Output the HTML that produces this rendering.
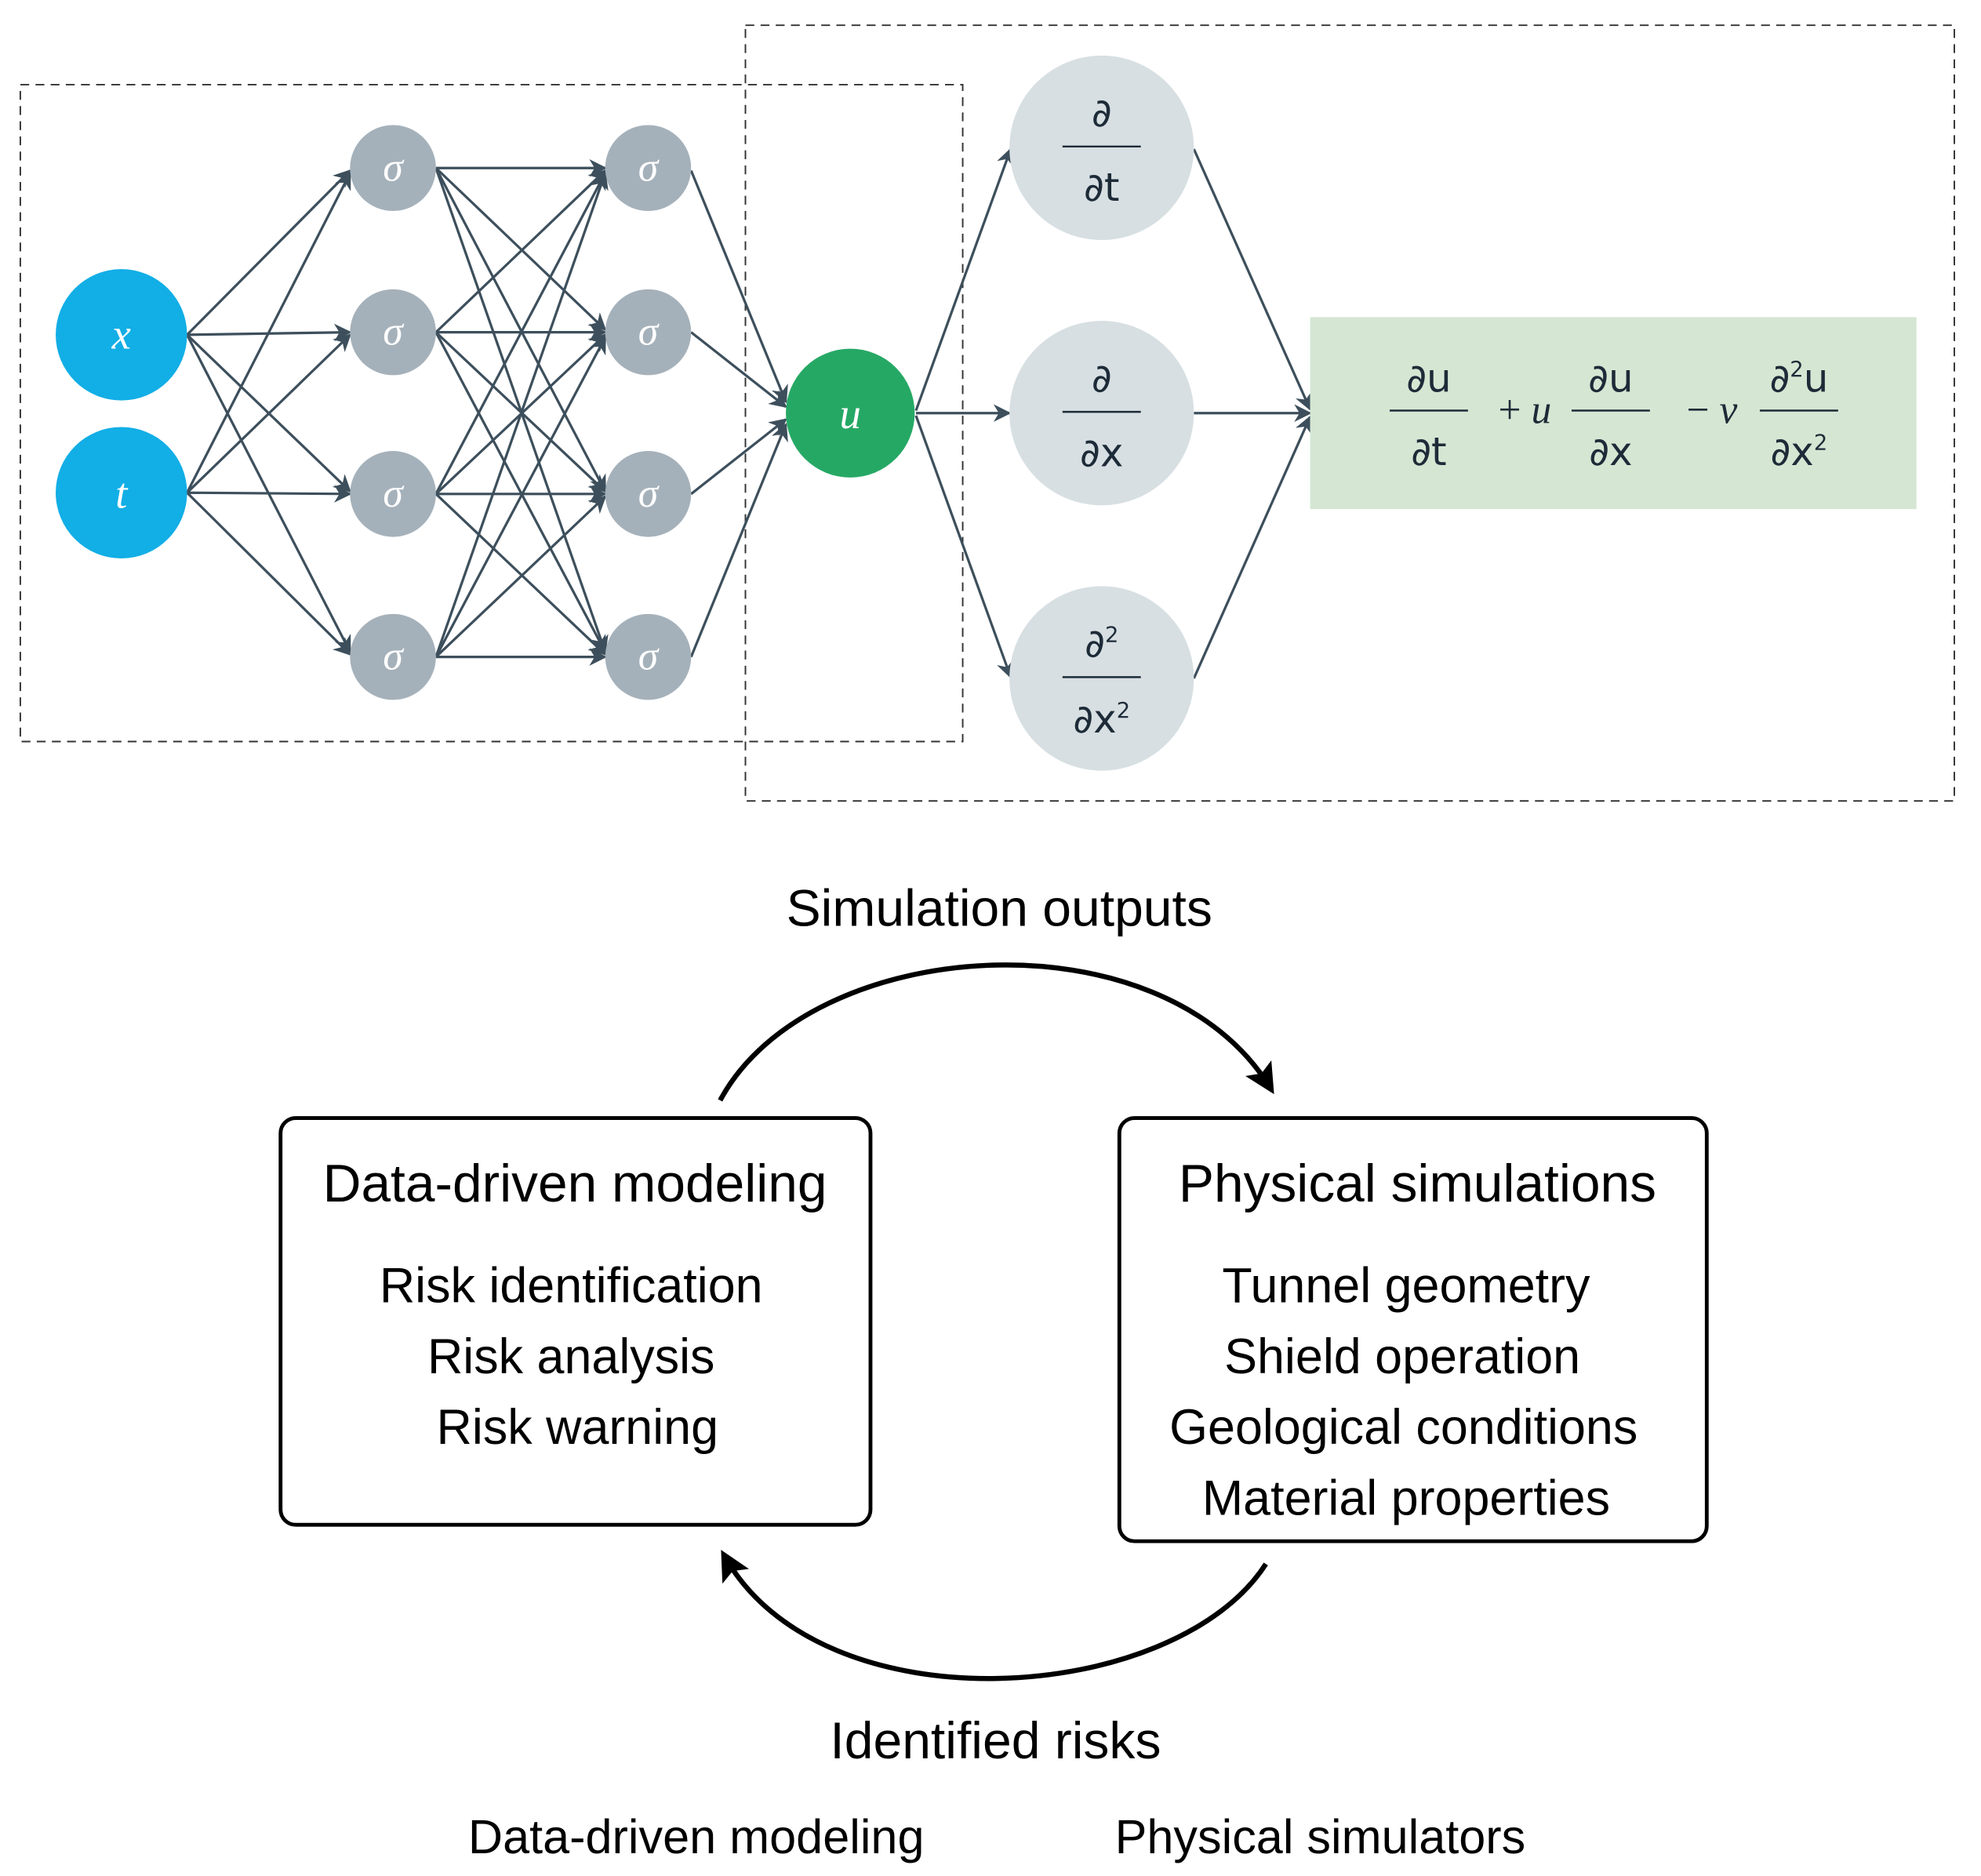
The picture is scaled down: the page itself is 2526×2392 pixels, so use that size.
<!DOCTYPE html>
<html><head><meta charset="utf-8"><style>html,body{margin:0;padding:0;background:#fff}svg{display:block}</style></head>
<body>
<svg width="2526" height="2392" viewBox="0 0 1568 1485" xmlns="http://www.w3.org/2000/svg">
<defs>
<marker id="a" viewBox="0 0 10 10" refX="9" refY="5" markerWidth="7" markerHeight="7" orient="auto"><path d="M0,0 L10,5 L0,10 L3,5z" fill="#3d4f5c"/></marker>
<marker id="b" viewBox="0 0 10 10" refX="8" refY="5" markerWidth="6" markerHeight="6" orient="auto"><path d="M0,0 L10,5 L0,10 L2,5z" fill="#000"/></marker>
</defs>
<rect x="16" y="67" width="746" height="520" fill="none" stroke="#333" stroke-width="1.2" stroke-dasharray="7,5"/>
<rect x="590" y="20" width="957" height="614" fill="none" stroke="#333" stroke-width="1.2" stroke-dasharray="7,5"/>
<g stroke="#3d4f5c" stroke-width="2" fill="none" marker-end="url(#a)">
<line x1="148" y1="265" x2="277" y2="135"/><line x1="148" y1="265" x2="277" y2="263"/><line x1="148" y1="265" x2="277" y2="389"/><line x1="148" y1="265" x2="277" y2="516"/>
<line x1="148" y1="390" x2="277" y2="137"/><line x1="148" y1="390" x2="277" y2="265"/><line x1="148" y1="390" x2="277" y2="391"/><line x1="148" y1="390" x2="277" y2="518"/>
<line x1="345" y1="133" x2="479" y2="133"/><line x1="345" y1="133" x2="479" y2="261"/><line x1="345" y1="133" x2="479" y2="389"/><line x1="345" y1="133" x2="479" y2="516"/>
<line x1="345" y1="263" x2="479" y2="135"/><line x1="345" y1="263" x2="479" y2="263"/><line x1="345" y1="263" x2="479" y2="389"/><line x1="345" y1="263" x2="479" y2="516"/>
<line x1="345" y1="391" x2="479" y2="137"/><line x1="345" y1="391" x2="479" y2="265"/><line x1="345" y1="391" x2="479" y2="391"/><line x1="345" y1="391" x2="479" y2="518"/>
<line x1="345" y1="520" x2="479" y2="137"/><line x1="345" y1="520" x2="479" y2="267"/><line x1="345" y1="520" x2="479" y2="393"/><line x1="345" y1="520" x2="479" y2="520"/>
<line x1="547" y1="135" x2="622" y2="318"/><line x1="547" y1="263" x2="622" y2="322"/><line x1="547" y1="391" x2="622" y2="332"/><line x1="547" y1="520" x2="622" y2="336"/>
<line x1="725" y1="325" x2="800" y2="118"/><line x1="725" y1="327" x2="799" y2="327"/><line x1="725" y1="329" x2="800" y2="536"/>
<line x1="945" y1="118" x2="1037" y2="324"/><line x1="945" y1="327" x2="1037" y2="327"/><line x1="945" y1="537" x2="1037" y2="330"/>
</g>
<circle cx="96" cy="265" r="52" fill="#12aee6"/><circle cx="96" cy="390" r="52" fill="#12aee6"/>
<g font-family="Liberation Serif,serif" font-style="italic" font-size="34" fill="#fff" text-anchor="middle"><text x="96" y="276">x</text><text x="96" y="402">t</text></g>
<g fill="#a5b1ba"><circle cx="311" cy="133" r="34"/><circle cx="311" cy="263" r="34"/><circle cx="311" cy="391" r="34"/><circle cx="311" cy="520" r="34"/>
<circle cx="513" cy="133" r="34"/><circle cx="513" cy="263" r="34"/><circle cx="513" cy="391" r="34"/><circle cx="513" cy="520" r="34"/></g>
<g font-family="Liberation Serif,serif" font-style="italic" font-size="32" fill="#fff" text-anchor="middle">
<text x="311" y="143">σ</text><text x="311" y="273">σ</text><text x="311" y="401">σ</text><text x="311" y="530">σ</text>
<text x="513" y="143">σ</text><text x="513" y="273">σ</text><text x="513" y="401">σ</text><text x="513" y="530">σ</text></g>
<circle cx="673" cy="327" r="51" fill="#26a865"/>
<text x="673" y="339" font-family="Liberation Serif,serif" font-style="italic" font-size="34" fill="#fff" text-anchor="middle">u</text>
<g fill="#d7dfe2"><circle cx="872" cy="117" r="73"/><circle cx="872" cy="327" r="73"/><circle cx="872" cy="537" r="73"/></g>
<g font-family="DejaVu Sans,sans-serif" font-size="31" fill="#1d2b38" text-anchor="middle">
<text x="872" y="100">∂</text><text x="872" y="159">∂t</text><text x="872" y="310">∂</text><text x="872" y="369">∂x</text>
<text x="872" y="520">∂<tspan font-size="17" dy="-12">2</tspan></text><text x="872" y="580">∂x<tspan font-size="17" dy="-12">2</tspan></text></g>
<g stroke="#1d2b38" stroke-width="1.5"><line x1="841" y1="116" x2="903" y2="116"/><line x1="841" y1="326" x2="903" y2="326"/><line x1="841" y1="536" x2="903" y2="536"/></g>
<rect x="1037" y="251" width="480" height="152" fill="#d5e7d3"/>
<g font-family="DejaVu Sans,sans-serif" font-size="31" fill="#1d2b38" text-anchor="middle">
<text x="1131" y="310">∂u</text><text x="1131" y="368">∂t</text><text x="1275" y="310">∂u</text><text x="1275" y="368">∂x</text>
<text x="1424" y="310">∂<tspan font-size="17" dy="-12">2</tspan><tspan dy="12">u</tspan></text><text x="1424" y="368">∂x<tspan font-size="17" dy="-12">2</tspan></text></g>
<g stroke="#1d2b38" stroke-width="1.5"><line x1="1100" y1="325" x2="1162" y2="325"/><line x1="1244" y1="325" x2="1306" y2="325"/><line x1="1393" y1="325" x2="1455" y2="325"/></g>
<g font-family="Liberation Serif,serif" font-size="32" fill="#1d2b38"><text x="1186" y="335">+ <tspan font-style="italic">u</tspan></text><text x="1335" y="335">− <tspan font-style="italic">ν</tspan></text></g>
<g font-family="Liberation Sans,sans-serif" fill="#000" text-anchor="middle">
<text x="791" y="733" font-size="41">Simulation outputs</text>
<text x="455" y="951" font-size="42">Data-driven modeling</text>
<text x="452" y="1031" font-size="39">Risk identification</text><text x="452" y="1087" font-size="39">Risk analysis</text><text x="457" y="1143" font-size="39">Risk warning</text>
<text x="1122" y="951" font-size="42">Physical simulations</text>
<text x="1113" y="1031" font-size="39">Tunnel geometry</text><text x="1110" y="1087" font-size="39">Shield operation</text><text x="1111" y="1143" font-size="39">Geological conditions</text><text x="1113" y="1199" font-size="39">Material properties</text>
<text x="788" y="1392" font-size="41">Identified risks</text>
<text x="551" y="1467" font-size="38">Data-driven modeling</text><text x="1045" y="1467" font-size="38">Physical simulators</text>
</g>
<rect x="222" y="885" width="467" height="322" rx="12" fill="none" stroke="#000" stroke-width="3"/>
<rect x="886" y="885" width="465" height="335" rx="12" fill="none" stroke="#000" stroke-width="3"/>
<path d="M570,871 C640,740 920,720 1006,862" fill="none" stroke="#000" stroke-width="4" marker-end="url(#b)"/>
<path d="M1002,1238 C930,1350 650,1370 573,1231" fill="none" stroke="#000" stroke-width="4" marker-end="url(#b)"/>
</svg>
</body></html>
